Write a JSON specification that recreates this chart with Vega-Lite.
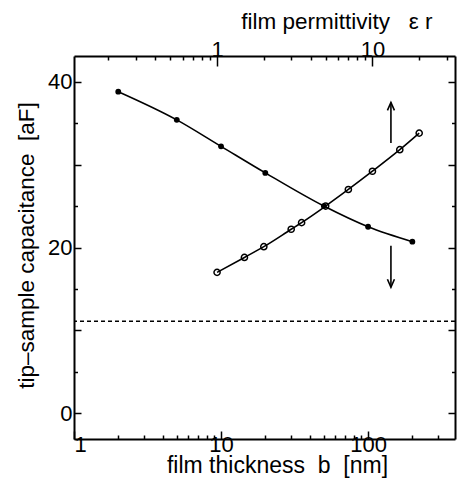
{
  "$schema": "https://vega.github.io/schema/vega-lite/v6.json",
  "width": 381,
  "height": 383,
  "autosize": {"type": "none"},
  "padding": {"left": 74, "top": 56, "right": 3, "bottom": 46},
  "background": "white",
  "config": {
    "view": {"stroke": null},
    "font": "Liberation Sans",
    "axis": {
      "labelFontSize": 22, "titleFontSize": 22.5, "titleFontWeight": "normal",
      "grid": false, "labelOverlap": false
    }
  },
  "datasets": {
    "thickness": [
      {"b": 2, "C": 38.8}, {"b": 5, "C": 35.4}, {"b": 10, "C": 32.2}, {"b": 20, "C": 29.0},
      {"b": 50, "C": 25.0}, {"b": 100, "C": 22.5}, {"b": 200, "C": 20.7}
    ],
    "permittivity": [
      {"e": 1, "C": 17.0}, {"e": 1.5, "C": 18.8}, {"e": 2, "C": 20.1}, {"e": 3, "C": 22.2},
      {"e": 3.5, "C": 23.0}, {"e": 5, "C": 25.0}, {"e": 7, "C": 27.0}, {"e": 10, "C": 29.2},
      {"e": 15, "C": 31.8}, {"e": 20, "C": 33.8}
    ],
    "asymptote": [{"C": 11.1}],
    "arrows": [
      {"dir": "up", "b": 143, "C1": 32.6, "C2": 37.5},
      {"dir": "down", "b": 143, "C1": 20.2, "C2": 15.2}
    ]
  },
  "layer": [
    {
      "data": {"name": "thickness"},
      "mark": {"type": "line", "color": "black", "strokeWidth": 1.6, "interpolate": "monotone"},
      "encoding": {
        "x": {
          "field": "b", "type": "quantitative",
          "scale": {"type": "log", "domain": [1, 390], "nice": false},
          "axis": {
            "orient": "bottom",
            "title": "film thickness\u00a0 b\u00a0 [nm]",
            "titleFontSize": 23,
            "values": [1, 2, 3, 4, 5, 6, 7, 8, 9, 10, 20, 30, 40, 50, 60, 70, 80, 90, 100, 200, 300],
            "labelExpr": "datum.value == 1 || datum.value == 10 || datum.value == 100 ? datum.label : ''",
            "domain": true, "domainColor": "black", "domainWidth": 2,
            "ticks": true, "tickColor": "black", "tickWidth": 1.5,
            "tickSize": {"condition": {"test": "datum.value == 1 || datum.value == 10 || datum.value == 100", "value": -8}, "value": -4},
            "labelPadding": 3, "labelColor": "black", "titleColor": "black",
            "titleX": 203, "titleY": 33, "titleAlign": "center", "titleBaseline": "alphabetic"
          }
        },
        "y": {
          "field": "C", "type": "quantitative",
          "scale": {"domain": [-3.1, 43.1], "nice": false, "zero": false},
          "axis": {
            "orient": "left",
            "title": "tip–sample capacitance\u00a0 [aF]",
            "values": [0, 5, 10, 15, 20, 25, 30, 35, 40],
            "labelExpr": "datum.value == 0 || datum.value == 20 || datum.value == 40 ? datum.label : ''",
            "domain": true, "domainColor": "black", "domainWidth": 2,
            "ticks": true, "tickColor": "black", "tickWidth": 1.5,
            "tickSize": {"condition": {"test": "datum.value == 0 || datum.value == 10 || datum.value == 20 || datum.value == 30 || datum.value == 40", "value": -7}, "value": -3.5},
            "labelPadding": 9, "labelColor": "black", "titleColor": "black",
            "titleX": -41, "titleY": 189, "titleAlign": "center", "titleBaseline": "alphabetic"
          }
        }
      }
    },
    {
      "data": {"name": "permittivity"},
      "mark": {"type": "line", "color": "black", "strokeWidth": 1.6, "interpolate": "monotone"},
      "encoding": {
        "x": {
          "field": "e", "type": "quantitative",
          "scale": {"type": "log", "domain": [0.12, 34], "nice": false},
          "axis": {
            "orient": "top",
            "title": "film permittivity\u00a0\u00a0 ε r",
            "values": [0.2, 0.3, 0.4, 0.5, 0.6, 0.7, 0.8, 0.9, 1, 2, 3, 4, 5, 6, 7, 8, 9, 10, 20, 30],
            "labelExpr": "datum.value == 1 || datum.value == 10 ? datum.label : ''",
            "domain": true, "domainColor": "black", "domainWidth": 2,
            "ticks": true, "tickColor": "black", "tickWidth": 1.5,
            "tickSize": {"condition": {"test": "datum.value == 1 || datum.value == 10", "value": -10}, "value": -4},
            "labelPadding": 10, "labelBaseline": "alphabetic", "labelColor": "black", "titleColor": "black",
            "titleX": 358, "titleY": -28, "titleAlign": "right", "titleBaseline": "alphabetic"
          }
        },
        "y": {
          "field": "C", "type": "quantitative",
          "scale": {"domain": [-3.1, 43.1], "nice": false, "zero": false},
          "axis": {
            "orient": "right",
            "title": null,
            "labels": false,
            "values": [0, 5, 10, 15, 20, 25, 30, 35, 40],
            "domain": true, "domainColor": "black", "domainWidth": 2,
            "ticks": true, "tickColor": "black", "tickWidth": 1.5,
            "tickSize": {"condition": {"test": "datum.value == 0 || datum.value == 10 || datum.value == 20 || datum.value == 30 || datum.value == 40", "value": -7}, "value": -3.5}
          }
        }
      }
    },
    {
      "data": {"name": "asymptote"},
      "mark": {"type": "rule", "color": "black", "strokeWidth": 1.4, "strokeDash": [4, 3]},
      "encoding": {
        "y": {"field": "C", "type": "quantitative", "scale": {"domain": [-3.1, 43.1], "nice": false, "zero": false}, "axis": null}
      }
    },
    {
      "data": {"name": "thickness"},
      "mark": {"type": "point", "filled": true, "size": 34, "color": "black", "opacity": 1},
      "encoding": {
        "x": {"field": "b", "type": "quantitative", "scale": {"type": "log", "domain": [1, 390], "nice": false}, "axis": null},
        "y": {"field": "C", "type": "quantitative", "scale": {"domain": [-3.1, 43.1], "nice": false, "zero": false}, "axis": null}
      }
    },
    {
      "data": {"name": "permittivity"},
      "mark": {"type": "point", "filled": false, "size": 38, "color": "black", "strokeWidth": 1.5, "opacity": 1},
      "encoding": {
        "x": {"field": "e", "type": "quantitative", "scale": {"type": "log", "domain": [0.12, 34], "nice": false}, "axis": null},
        "y": {"field": "C", "type": "quantitative", "scale": {"domain": [-3.1, 43.1], "nice": false, "zero": false}, "axis": null}
      }
    },
    {
      "data": {"name": "arrows"},
      "mark": {"type": "rule", "color": "black", "strokeWidth": 1.6},
      "encoding": {
        "x": {"field": "b", "type": "quantitative", "scale": {"type": "log", "domain": [1, 390], "nice": false}, "axis": null},
        "y": {"field": "C1", "type": "quantitative", "scale": {"domain": [-3.1, 43.1], "nice": false, "zero": false}, "axis": null},
        "y2": {"field": "C2"}
      }
    },
    {
      "data": {"name": "arrows"},
      "transform": [{"filter": "datum.dir == 'up'"}],
      "mark": {"type": "point", "shape": "M-0.7,1.6L0,0L0.7,1.6", "size": 100, "filled": false, "color": "black", "strokeWidth": 1.6, "opacity": 1},
      "encoding": {
        "x": {"field": "b", "type": "quantitative", "scale": {"type": "log", "domain": [1, 390], "nice": false}, "axis": null},
        "y": {"field": "C2", "type": "quantitative", "scale": {"domain": [-3.1, 43.1], "nice": false, "zero": false}, "axis": null}
      }
    },
    {
      "data": {"name": "arrows"},
      "transform": [{"filter": "datum.dir == 'down'"}],
      "mark": {"type": "point", "shape": "M-0.7,-1.6L0,0L0.7,-1.6", "size": 100, "filled": false, "color": "black", "strokeWidth": 1.6, "opacity": 1},
      "encoding": {
        "x": {"field": "b", "type": "quantitative", "scale": {"type": "log", "domain": [1, 390], "nice": false}, "axis": null},
        "y": {"field": "C2", "type": "quantitative", "scale": {"domain": [-3.1, 43.1], "nice": false, "zero": false}, "axis": null}
      }
    }
  ],
  "resolve": {
    "scale": {"x": "independent", "y": "independent"},
    "axis": {"x": "independent", "y": "independent"}
  }
}
